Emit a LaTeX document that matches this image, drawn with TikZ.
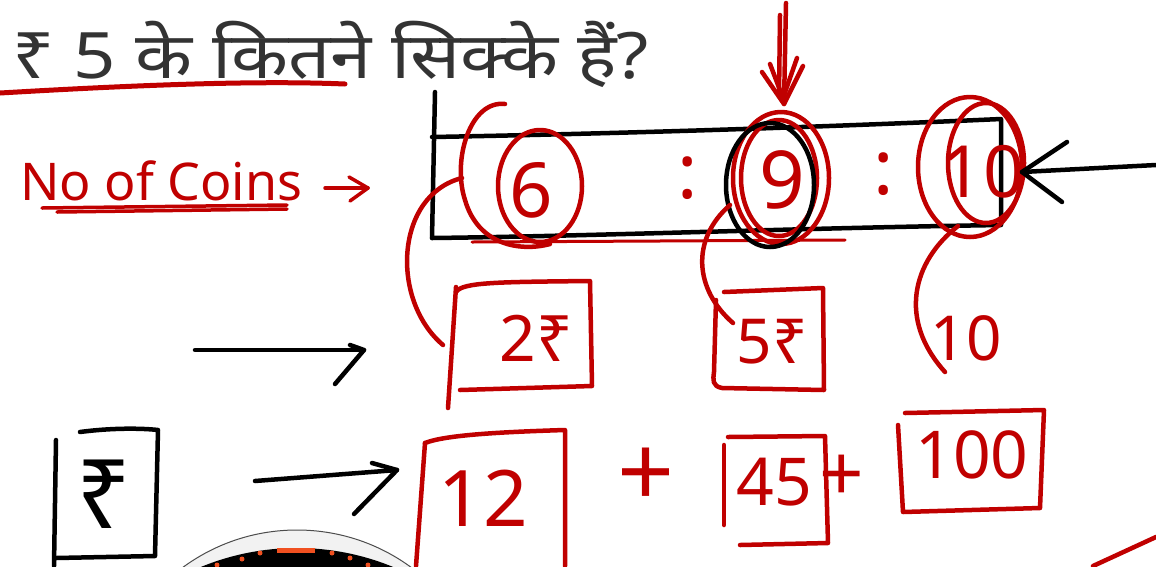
\documentclass[tikz,border=0pt]{standalone}
\usepackage{fontspec}
\newfontfamily\deva[Script=Devanagari]{Noto Sans}
\newfontfamily\hand{Noto Sans}
\definecolor{ink}{HTML}{C00000}
\definecolor{qtxt}{HTML}{333333}
\definecolor{camor}{HTML}{F05020}
\tikzset{
  rs/.style={draw=ink, line width=4.5pt, line cap=round, line join=round},
  bs/.style={draw=black, line width=4.5pt, line cap=round, line join=round},
  rt/.style={text=ink, inner sep=0pt, font=\hand\fontsize{#1}{#1}\selectfont},
  bt/.style={text=black, inner sep=0pt, font=\hand\fontsize{#1}{#1}\selectfont},
}
\begin{document}
\begin{tikzpicture}[x=1pt,y=-1pt]
\path[use as bounding box, fill=white] (0,0) rectangle (1156,566);

% question
\node[anchor=base west, text=qtxt, inner sep=0pt, font=\deva\fontsize{64}{64}\selectfont] (q) at (12,78) {\scalebox{1.16}[1]{₹ 5 के कितने सिक्के हैं?}};
\draw[rs, line width=5pt] (0,93) .. controls (120,86) and (250,80) .. (345,84);

% top red arrow
\coordinate (ta) at (786,3);
\coordinate (tb) at (784,104);
\draw[rs] (ta) -- (tb);
\draw[rs] (780,15) -- (779,96);
\draw[rs] (762,72) -- (tb) -- (803,66);
\draw[rs] (770,64) -- (783,98) -- (797,58);

% No of Coins
\node[rt=52, anchor=base west] (noc) at (20,200) {No of Coins};
\draw[rs, line width=3.5pt] (42,208) -- (287,205);
\draw[rs, line width=3.5pt] (57,212) -- (287,209);
\coordinate (na) at (325,188);
\coordinate (nb) at (368,188);
\draw[rs, line width=3.5pt] (na) -- (nb);
\draw[rs, line width=3.5pt] (349,177) -- (nb) -- (350,201);

% black rectangle
\draw[bs] (435,92) -- (432,238);
\draw[bs] (432,238) .. controls (600,236) and (800,228) .. (1001,225) -- (1001,119)
      .. controls (800,128) and (600,134) .. (432,137);
\draw[rs, line width=3pt] (472,242) -- (845,240);

% ratio numbers
\node[rt=76] (six) at (531,190) {6};
\node[rt=76] (c1) at (688,178) {:};
\node[rt=80] (nine) at (782,180) {9};
\node[rt=76] (c2) at (884,174) {:};
\node[rt=72] (ten) at (983,172) {10};

% circles round the numbers
\draw[rs] (505,104) .. controls (470,100) and (452,160) .. (465,200)
      .. controls (478,245) and (520,252) .. (550,244);
\draw[rs] (540,186) ellipse [x radius=42, y radius=56];
\draw[rs] (781,178) ellipse [x radius=48, y radius=66];
\draw[rs] (779,178) ellipse [x radius=38, y radius=58];
\draw[bs] (770,185) ellipse [x radius=44, y radius=62];
\draw[rs] (970,167) ellipse [x radius=52, y radius=70];
\draw[rs] (986,163) ellipse [x radius=38, y radius=60];

% right black arrow
\coordinate (ra) at (1156,165);
\coordinate (rb) at (1022,172);
\draw[bs] (ra) -- (rb);
\draw[bs] (1067,142) -- (rb) -- (1062,202);

% second row
\draw[rs] (462,178) .. controls (395,195) and (390,300) .. (443,345);
\draw[rs] (730,205) .. controls (690,240) and (695,290) .. (733,323);
\draw[rs] (958,226) .. controls (912,262) and (898,320) .. (945,372);

\draw[rs] (456,287) -- (448,408);
\draw[rs] (456,292) .. controls (462,282) and (500,282) .. (590,281) -- (592,386) -- (460,390);
\node[rt=64] (two) at (536,338) {2₹};

\draw[rs] (724,292) -- (823,288) -- (824,390) -- (722,388) .. controls (712,386) and (713,380) .. (714,372) -- (716,300);
\node[rt=62] (five) at (772,342) {5₹};

\node[rt=62] (tenb) at (966,338) {10};

% left black arrow
\coordinate (la) at (195,350);
\coordinate (lb) at (364,350);
\draw[bs] (la) -- (lb);
\draw[bs] (350,345) -- (lb) -- (335,384);

% third row
\draw[bs] (80,432) .. controls (110,428) and (140,428) .. (158,430) -- (155,556) -- (56,558);
\draw[bs] (56,440) -- (54,566);
\node[bt=96] (rup) at (104,494) {₹};

\coordinate (ma) at (255,481);
\coordinate (mb) at (397,470);
\draw[bs] (ma) -- (mb);
\draw[bs] (372,463) -- (mb) -- (354,514);

\draw[rs] (425,443) .. controls (445,435) and (500,432) .. (565,430) -- (565,566);
\draw[rs] (425,443) -- (416,566);
\node[rt=78] (twelve) at (483,498) {12};

\node[rt=100] (plus1) at (646,478) {+};

\draw[rs] (728,437) -- (825,436) -- (828,543) -- (740,545);
\draw[rs] (724,445) -- (724,525);
\node[rt=66] (fortyfive) at (774,482) {45};
\node[rt=78] (plus2) at (842,478) {+};

\draw[rs] (905,413) -- (1044,410) -- (1040,508) -- (903,512) -- (898,425);
\node[rt=66] (hundred) at (972,455) {100};

% red stroke bottom right
\draw[rs] (1093,566) -- (1156,537);

% webcam overlay
\fill[gray!10] (297,723) circle (193);
\draw[black!70, line width=1pt] (297,723) circle (193);
\fill[black] (297,800) circle (252);
\fill[camor] (277,548) rectangle (315,553);
\foreach \p in {(242,559),(260,553),(332,553),(350,558),(368,565),(217,565)}
  \fill[camor] \p circle (2.5);
\end{tikzpicture}
\end{document}
